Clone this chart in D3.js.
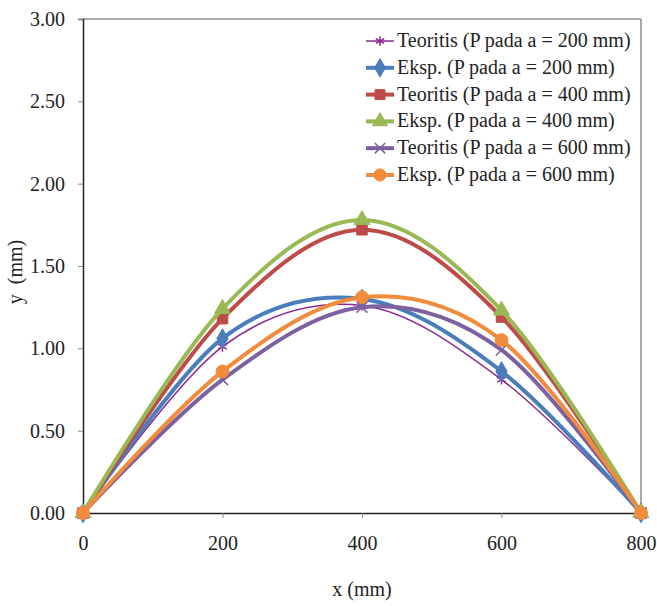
<!DOCTYPE html>
<html><head><meta charset="utf-8">
<script src="https://cdn.jsdelivr.net/npm/d3@7"></script>
<style>body{margin:0;background:#fff}</style>
</head><body>
<svg id="c" width="657" height="606"></svg>
<script>
const xValues = [0, 200, 400, 600, 800];
const seriesNames = ["Teoritis (P pada a = 200 mm)","Eksp. (P pada a = 200 mm)","Teoritis (P pada a = 400 mm)","Eksp. (P pada a = 400 mm)","Teoritis (P pada a = 600 mm)","Eksp. (P pada a = 600 mm)"];
const t200 = [0, 1.01, 1.26, 0.81, 0];
const e200 = [0, 1.06, 1.30, 0.86, 0];
const t400 = [0, 1.18, 1.72, 1.19, 0];
const e400 = [0, 1.24, 1.78, 1.23, 0];
const t600 = [0, 0.81, 1.25, 0.99, 0];
const e600 = [0, 0.86, 1.31, 1.05, 0];
const xTicks = [0, 200, 400, 600, 800];
const yTicks = [0, 0.5, 1.0, 1.5, 2.0, 2.5, 3.0];
const colors = ["#8B2A8E","#4A7EBB","#BE4B48","#98B954","#7D60A0","#F08C3C"];
const markers = ["star","diamond","square","triangle","x","circle"];
const widths = [1.5, 4, 4, 4, 4, 4];
const allY = [t200,e200,t400,e400,t600,e600];
const FONT = "'Liberation Serif', 'DejaVu Serif', serif";

const svg = d3.select("#c");
const x = d3.scaleLinear().domain([0,800]).range([83,641]);
const y = d3.scaleLinear().domain([0,3]).range([513,19]);

svg.append("line").attr("x1",83).attr("x2",641).attr("y1",19).attr("y2",19).attr("stroke","#8c8c8c").attr("stroke-width",1.5);
svg.append("line").attr("x1",641).attr("x2",641).attr("y1",19).attr("y2",513).attr("stroke","#8c8c8c").attr("stroke-width",1.5);

const gx = svg.append("g").attr("transform","translate(0,513)")
  .call(d3.axisBottom(x).tickValues(xTicks).tickSize(5).tickPadding(18).tickFormat(d3.format("d")));
const gy = svg.append("g").attr("transform","translate(83,0)")
  .call(d3.axisLeft(y).tickValues(yTicks).tickSize(5).tickPadding(13).tickFormat(d3.format(".2f")));
[gx,gy].forEach(g=>{
  g.attr("font-family",FONT).attr("font-size",20);
  g.select(".domain").attr("stroke","#222").attr("stroke-width",1.5);
  g.selectAll(".tick line").attr("stroke","#888");
  g.selectAll("text").attr("fill","#222");
});

const line = d3.line().x(d=>x(d[0])).y(d=>y(d[1])).curve(d3.curveCardinal.tension(0));
const sym = {
  star: d3.symbolAsterisk, diamond: d3.symbolDiamond, square: d3.symbolSquare,
  triangle: d3.symbolTriangle, x: d3.symbolTimes, circle: d3.symbolCircle
};
const symSize = {star:70, diamond:110, square:110, triangle:110, x:80, circle:130};

function drawMarker(g, m, c, cx, cy, scale){
  const s = d3.symbol().type(sym[m]).size(symSize[m]*(scale||1));
  const p = g.append("path").attr("d", s()).attr("transform",`translate(${cx},${cy})`);
  if (m==="star"||m==="x") p.attr("fill","none").attr("stroke",c).attr("stroke-width",1.5);
  else p.attr("fill",c).attr("stroke",c).attr("stroke-width",1);
}

allY.forEach((vals,i)=>{
  const pts = xValues.map((xv,j)=>[xv, vals[j]]);
  const g = svg.append("g");
  g.append("path").attr("d", line(pts)).attr("fill","none").attr("stroke",colors[i]).attr("stroke-width",widths[i]);
  pts.forEach(p=>drawMarker(g, markers[i], colors[i], x(p[0]), y(p[1])));
});

svg.append("text").attr("x",362).attr("y",596).attr("text-anchor","middle").attr("font-family",FONT).attr("font-size",20).attr("fill","#222").text("x (mm)");
svg.append("text").attr("transform","translate(22,272) rotate(-90)").attr("text-anchor","middle").attr("font-family",FONT).attr("font-size",20).attr("fill","#222").text("y\u00a0\u00a0(mm)");

const lg = svg.append("g");
seriesNames.forEach((n,i)=>{
  const cy = 41 + i*26.8;
  lg.append("line").attr("x1",366).attr("x2",394).attr("y1",cy).attr("y2",cy).attr("stroke",colors[i]).attr("stroke-width",widths[i]);
  drawMarker(lg, markers[i], colors[i], 380, cy, 0.9);
  lg.append("text").attr("x",397).attr("y",cy+6).attr("font-family",FONT).attr("font-size",20).attr("fill","#222").text(n);
});
</script>
</body></html>
